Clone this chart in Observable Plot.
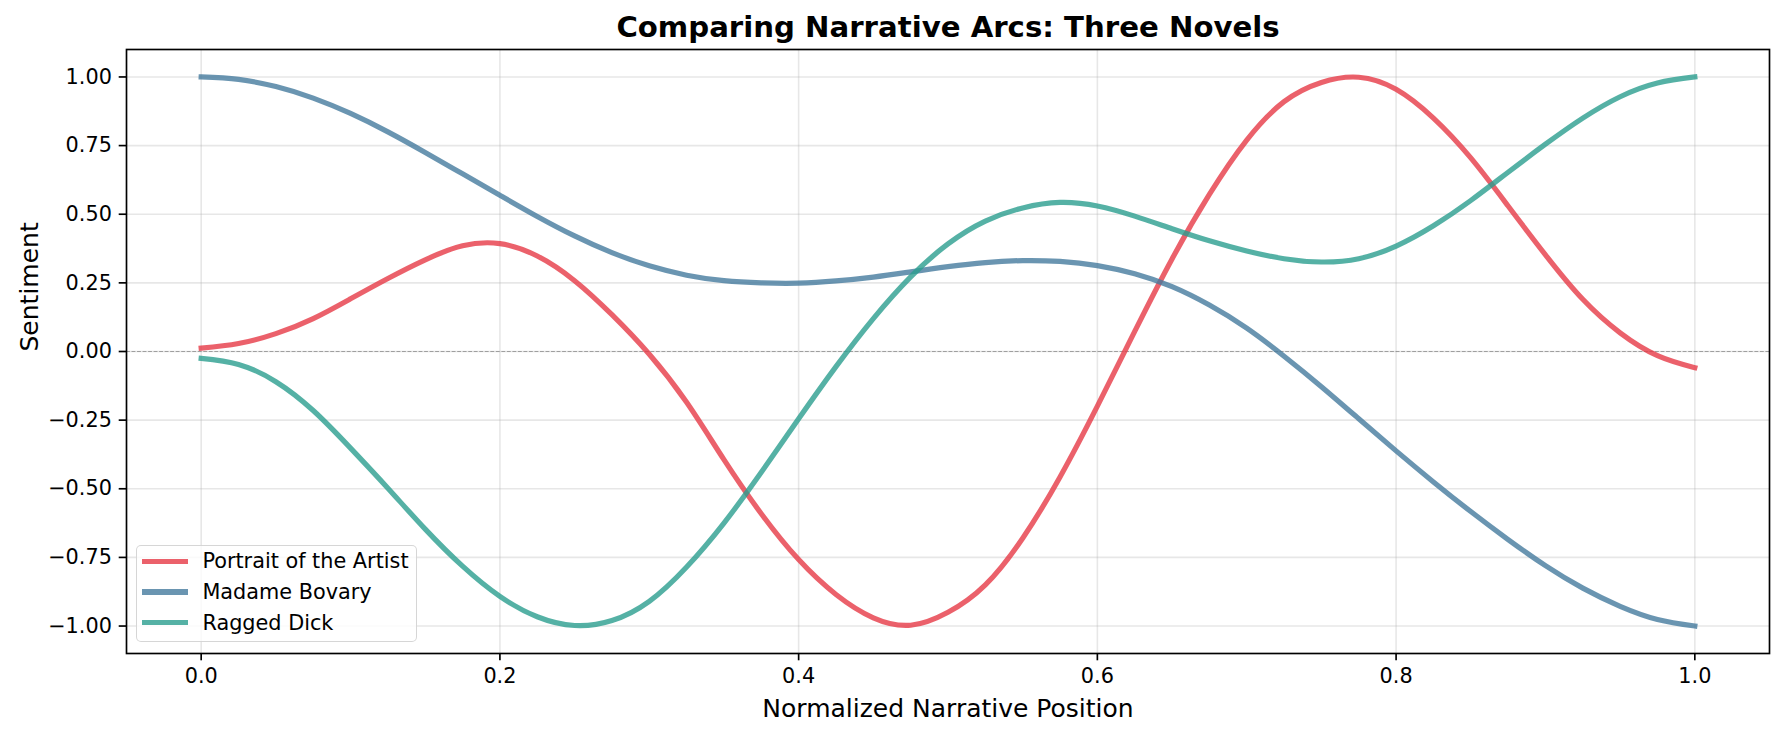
<!DOCTYPE html>
<html><head><meta charset="utf-8">
<script src="https://cdn.jsdelivr.net/npm/d3@7"></script>
<script src="https://cdn.jsdelivr.net/npm/@observablehq/plot@0.6"></script>
<style>
html,body{margin:0;padding:0;background:#fff;}
#wrap{position:relative;width:1784px;height:735px;font-family:"DejaVu Sans",sans-serif;}
#legend{position:absolute;left:136px;top:545px;width:281px;height:97px;box-sizing:border-box;border:1.6px solid rgba(204,204,204,0.8);border-radius:5px;background:rgba(255,255,255,0.8);}
.row{position:absolute;left:0;height:30px;display:flex;align-items:center;font-size:20.8px;color:#000;white-space:nowrap;}
.sw{width:46px;height:5.2px;margin-left:5.4px;margin-right:14px;}
</style></head><body>
<div id="wrap"><div id="chart"></div><div id="legend"></div></div>
<script>
const title = "Comparing Narrative Arcs: Three Novels";
const xLabel = "Normalized Narrative Position";
const yLabel = "Sentiment";
const seriesNames = ["Portrait of the Artist", "Madame Bovary", "Ragged Dick"];
const seriesColors = ["#E63946", "#457B9D", "#2A9D8F"];
const xTicks = [0, 0.2, 0.4, 0.6, 0.8, 1.0];
const yTicks = [-1, -0.75, -0.5, -0.25, 0, 0.25, 0.5, 0.75, 1];

const positions = [0, 0.025, 0.05, 0.075, 0.1, 0.125, 0.15, 0.175, 0.2, 0.225,
  0.25, 0.275, 0.3, 0.325, 0.35, 0.375, 0.4, 0.425, 0.45, 0.475,
  0.5, 0.525, 0.55, 0.575, 0.6, 0.625, 0.65, 0.675, 0.7, 0.725,
  0.75, 0.775, 0.8, 0.825, 0.85, 0.875, 0.9, 0.925, 0.95, 0.975, 1.0];

const portrait = [0.012, 0.029, 0.065, 0.12, 0.192, 0.266, 0.334, 0.385, 0.393, 0.348,
  0.258, 0.134, -0.01, -0.185, -0.394, -0.591, -0.758, -0.885, -0.97, -0.997,
  -0.95, -0.85, -0.68, -0.457, -0.199, 0.073, 0.337, 0.572, 0.77, 0.91,
  0.98, 0.999, 0.955, 0.85, 0.705, 0.53, 0.352, 0.19, 0.068, -0.015, -0.059];

const bovary = [1.0, 0.991, 0.965, 0.923, 0.867, 0.8, 0.725, 0.647, 0.569, 0.492,
  0.421, 0.36, 0.312, 0.278, 0.258, 0.25, 0.249, 0.257, 0.271, 0.29,
  0.309, 0.324, 0.331, 0.328, 0.313, 0.283, 0.236, 0.169, 0.085, -0.017,
  -0.128, -0.245, -0.362, -0.475, -0.583, -0.685, -0.78, -0.862, -0.928, -0.976, -1.0];

const raggedDick = [-0.025, -0.047, -0.11, -0.215, -0.352, -0.498, -0.647, -0.782, -0.892, -0.966,
  -0.998, -0.98, -0.91, -0.785, -0.625, -0.44, -0.245, -0.055, 0.12, 0.272,
  0.392, 0.475, 0.523, 0.543, 0.53, 0.493, 0.447, 0.403, 0.366, 0.338,
  0.326, 0.338, 0.384, 0.458, 0.55, 0.653, 0.755, 0.85, 0.928, 0.978, 1.0];

const seriesValues = [portrait, bovary, raggedDick];
const rows = [];
seriesNames.forEach((name, s) => positions.forEach((p, i) => rows.push({series: name, x: p, y: seriesValues[s][i]})));

const chart = Plot.plot({
  width: 1784, height: 735,
  marginLeft: 126, marginRight: 15, marginTop: 49, marginBottom: 82,
  style: {fontFamily: '"DejaVu Sans", sans-serif', fontSize: "20.8px", color: "#000", background: "#fff", overflow: "visible"},
  x: {domain: [-0.05, 1.05], label: null},
  y: {domain: [-1.1, 1.1], label: null},
  color: {type: "ordinal", domain: seriesNames, range: seriesColors},
  marks: [
    Plot.gridX({ticks: xTicks, stroke: "#b0b0b0", strokeOpacity: 0.3, strokeWidth: 1.6}),
    Plot.gridY({ticks: yTicks, stroke: "#b0b0b0", strokeOpacity: 0.3, strokeWidth: 1.6}),
    Plot.ruleY([0], {stroke: "#808080", strokeOpacity: 0.7, strokeWidth: 1.04, strokeDasharray: "3.85,1.67"}),
    Plot.line(rows, {x: "x", y: "y", z: "series", stroke: "series", strokeWidth: 5.2, strokeOpacity: 0.8,
      curve: "natural", strokeLinecap: "square", strokeLinejoin: "round"}),
    Plot.frame({stroke: "#000", strokeWidth: 1.67}),
    Plot.axisX({ticks: xTicks, tickSize: 7.3, tickPadding: 7.3, tickFormat: d3.format(".1f"), strokeWidth: 1.67, fontSize: 20.8, label: null}),
    Plot.axisY({ticks: yTicks, tickSize: 7.3, tickPadding: 7.3, tickFormat: d3.format(".2f"), strokeWidth: 1.67, fontSize: 20.8, label: null}),
    Plot.text([title], {text: d => d, frameAnchor: "top", dy: -12.3, lineAnchor: "bottom", fontSize: 29.2, fontWeight: "bold", fill: "#000"}),
    Plot.text([xLabel], {text: d => d, frameAnchor: "bottom", dy: 63, lineAnchor: "bottom", fontSize: 25, fill: "#000"}),
    Plot.text([yLabel], {text: d => d, frameAnchor: "left", dx: -88.5, rotate: -90, lineAnchor: "bottom", fontSize: 25, fill: "#000"})
  ]
});
document.getElementById("chart").appendChild(chart);

const legend = document.getElementById("legend");
seriesNames.forEach((name, i) => {
  const row = document.createElement("div");
  row.className = "row";
  row.style.top = (0.4 + i * 30.6) + "px";
  const sw = document.createElement("div");
  sw.className = "sw";
  sw.style.background = seriesColors[i];
  sw.style.opacity = 0.8;
  const label = document.createElement("span");
  label.textContent = name;
  row.appendChild(sw);
  row.appendChild(label);
  legend.appendChild(row);
});
</script>
</body></html>
